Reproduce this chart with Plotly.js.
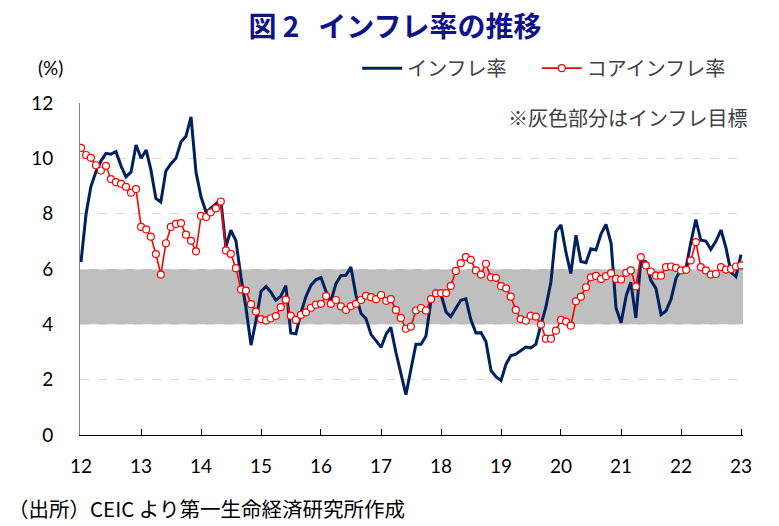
<!DOCTYPE html>
<html>
<head>
<meta charset="utf-8">
<script src="https://cdn.plot.ly/plotly-3.0.1.min.js"></script>
<style>
html,body{margin:0;padding:0;background:#fff;}
#chart{width:779px;height:526px;}
</style>
</head>
<body>
<div id="chart"></div>
<script>
// Monthly data, Jan 2012 - Jan 2023
var years = [2012,2013,2014,2015,2016,2017,2018,2019,2020,2021,2022,2023];
var yearLabels = ['12','13','14','15','16','17','18','19','20','21','22','23'];

var inflation = [
  6.25, 8.0, 8.97, 9.51, 9.9, 10.18, 10.15, 10.24, 9.72, 9.33, 9.51, 10.48,
  10.0, 10.3, 9.6, 8.55, 8.42, 9.55, 9.8, 10.0, 10.6, 10.8, 11.5, 9.5,
  8.6, 8.05, 8.2, 8.35, 8.5, 6.8, 7.4, 7.03, 5.7, 4.62, 3.25, 4.13,
  5.19, 5.37, 5.17, 4.87, 5.01, 5.40, 3.69, 3.66, 4.41, 5.00, 5.41, 5.61,
  5.69, 5.18, 4.83, 5.47, 5.76, 5.77, 6.07, 5.05, 4.39, 4.20, 3.63, 3.41,
  3.17, 3.65, 3.89, 2.99, 2.18, 1.46, 2.36, 3.28, 3.28, 3.58, 4.88, 5.21,
  5.07, 4.44, 4.28, 4.58, 4.87, 4.92, 4.17, 3.69, 3.70, 3.38, 2.33, 2.11,
  1.97, 2.57, 2.86, 2.92, 3.05, 3.18, 3.15, 3.28, 3.99, 4.62, 5.54, 7.35,
  7.59, 6.58, 5.84, 7.22, 6.27, 6.23, 6.73, 6.69, 7.27, 7.61, 6.93, 4.59,
  4.06, 5.03, 5.52, 4.23, 6.30, 6.26, 5.59, 5.30, 4.35, 4.48, 4.91, 5.66,
  6.01, 6.07, 6.95, 7.79, 7.04, 7.01, 6.71, 7.00, 7.41, 6.77, 5.88, 5.72,
  6.52
];

var coreInflation = [
  10.38, 10.12, 10.02, 9.75, 9.56, 9.73, 9.25, 9.14, 9.08, 8.97, 8.76, 8.89,
  7.52, 7.43, 7.17, 6.54, 5.80, 6.93, 7.52, 7.63, 7.66, 7.24, 7.02, 6.64,
  7.92, 7.88, 8.05, 8.19, 8.44, 6.67, 6.55, 6.03, 5.26, 5.22, 4.73, 4.46,
  4.19, 4.14, 4.22, 4.30, 4.62, 4.89, 4.31, 4.16, 4.34, 4.43, 4.60, 4.71,
  4.74, 5.02, 4.74, 4.88, 4.65, 4.52, 4.66, 4.74, 4.88, 5.03, 4.98, 4.91,
  5.06, 4.85, 4.91, 4.52, 4.23, 3.84, 3.92, 4.50, 4.59, 4.50, 4.91, 5.12,
  5.13, 5.13, 5.39, 5.93, 6.21, 6.43, 6.33, 5.95, 5.80, 6.19, 5.70, 5.68,
  5.38, 5.30, 5.00, 4.52, 4.19, 4.13, 4.31, 4.28, 3.99, 3.48, 3.48, 3.77,
  4.16, 4.10, 3.95, 4.83, 5.00, 5.34, 5.70, 5.75, 5.64, 5.74, 5.85, 5.64,
  5.62, 5.86, 5.95, 5.37, 6.43, 6.13, 5.91, 5.76, 5.76, 6.07, 6.09, 6.04,
  5.95, 5.97, 6.31, 6.97, 6.07, 5.95, 5.80, 5.82, 6.07, 5.98, 6.00, 6.09,
  6.13
];

var targetLow = 4, targetHigh = 6;

// month labels (dates) for each observation
var months = [];
for (var i = 0; i < inflation.length; i++) {
  var y = 2012 + Math.floor(i / 12), m = (i % 12) + 1;
  months.push(y + '-' + (m < 10 ? '0' + m : m) + '-01');
}
var tickVals = years.map(function (y) { return y + '-01-01'; });

var jp = '"Noto Sans CJK JP", "Noto Sans", sans-serif';
var num = 'Lato, "Open Sans", sans-serif';

var traces = [
  {
    x: months, y: inflation, type: 'scatter', mode: 'lines',
    name: 'インフレ率', legend: 'legend',
    line: {color: '#002060', width: 3}
  },
  {
    x: months, y: coreInflation, type: 'scatter', mode: 'lines+markers',
    name: 'コアインフレ率', legend: 'legend2',
    line: {color: '#ff0000', width: 1.6},
    marker: {symbol: 'circle', size: 7, color: '#ffffff', line: {color: '#ff0000', width: 1.2}}
  }
];

var legendStyle = function (xpos) {
  return {
    orientation: 'h',
    x: xpos, xanchor: 'left', y: 1.105, yanchor: 'middle',
    font: {family: jp, size: 20, color: '#404040'},
    itemwidth: 40,
    bgcolor: 'rgba(0,0,0,0)'
  };
};

var layout = {
  width: 779, height: 526,
  margin: {l: 80, r: 36, t: 103, b: 91},
  paper_bgcolor: '#ffffff', plot_bgcolor: '#ffffff',
  showlegend: true,
  title: {
    text: '図 2\u00a0\u00a0 インフレ率の推移',
    font: {family: jp, size: 28, color: '#11118a', weight: 'bold'},
    x: 0.507, xanchor: 'center', xref: 'container',
    y: 0.949, yanchor: 'middle', yref: 'container'
  },
  xaxis: {
    type: 'date',
    range: ['2011-12-26', '2023-01-13'],
    tickmode: 'array', tickvals: tickVals, ticktext: yearLabels,
    ticks: 'inside', ticklen: 6, tickwidth: 1, tickcolor: '#000000',
    showgrid: false, zeroline: false,
    showline: true, linecolor: '#000000', linewidth: 1.3,
    tickfont: {family: num, size: 19, color: '#000000'},
    ticklabelstandoff: 14,
    fixedrange: true
  },
  yaxis: {
    range: [0, 12],
    tickmode: 'array', tickvals: [0, 2, 4, 6, 8, 10, 12],
    ticks: '', showgrid: true, gridcolor: '#d9d9d9', griddash: 'dash', gridwidth: 1,
    zeroline: false,
    showline: true, linecolor: '#808080', linewidth: 1,
    tickfont: {family: num, size: 19, color: '#000000'},
    ticklabelstandoff: 22,
    fixedrange: true
  },
  legend: legendStyle(0.418),
  legend2: legendStyle(0.689),
  shapes: [
    {
      type: 'rect', xref: 'paper', x0: 0, x1: 1, yref: 'y', y0: targetLow, y1: targetHigh,
      fillcolor: '#bfbfbf', line: {width: 0}, layer: 'below'
    }
  ],
  annotations: [
    {
      text: '(%)', xref: 'paper', yref: 'paper', x: -0.045, y: 1.108,
      xanchor: 'center', yanchor: 'middle', showarrow: false,
      font: {family: num, size: 19, color: '#000000'}
    },
    {
      text: '※灰色部分はインフレ目標', xref: 'paper', yref: 'paper', x: 1.009, y: 0.955,
      xanchor: 'right', yanchor: 'middle', showarrow: false,
      font: {family: jp, size: 20, color: '#404040'}
    },
    {
      text: '（出所）CEIC より第一生命経済研究所作成', xref: 'paper', yref: 'paper', x: -0.112, y: -0.22,
      xanchor: 'left', yanchor: 'middle', showarrow: false,
      font: {family: jp, size: 20.5, color: '#000000'}
    }
  ]
};

Plotly.newPlot('chart', traces, layout, {displayModeBar: false, staticPlot: true});
</script>
</body>
</html>
